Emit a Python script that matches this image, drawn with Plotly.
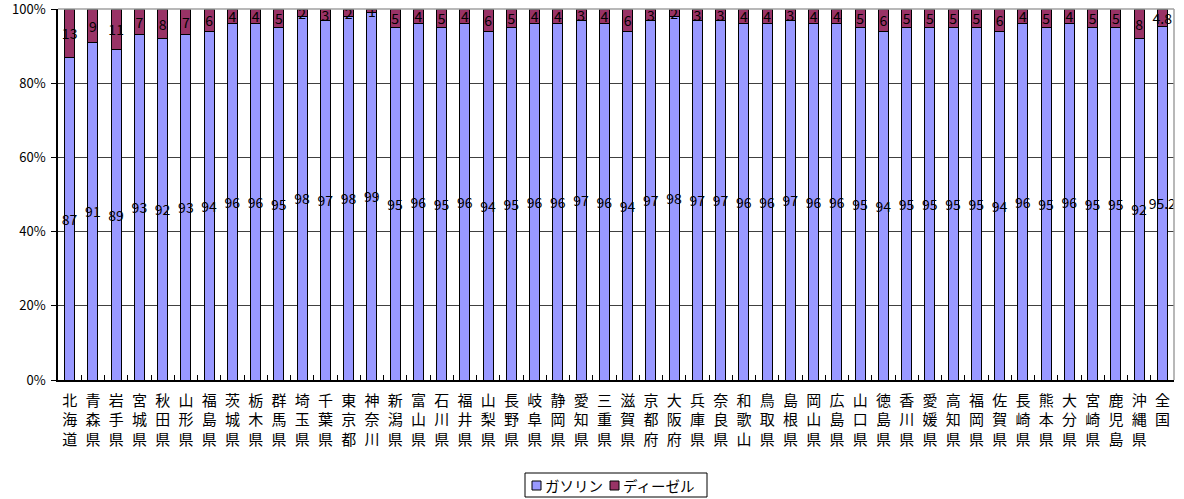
import plotly.graph_objects as go

# Prefecture names (stacked vertically under each bar)
prefectures = [
    "北海道", "青森県", "岩手県", "宮城県", "秋田県", "山形県", "福島県", "茨城県",
    "栃木県", "群馬県", "埼玉県", "千葉県", "東京都", "神奈川", "新潟県", "富山県",
    "石川県", "福井県", "山梨県", "長野県", "岐阜県", "静岡県", "愛知県", "三重県",
    "滋賀県", "京都府", "大阪府", "兵庫県", "奈良県", "和歌山", "鳥取県", "島根県",
    "岡山県", "広島県", "山口県", "徳島県", "香川県", "愛媛県", "高知県", "福岡県",
    "佐賀県", "長崎県", "熊本県", "大分県", "宮崎県", "鹿児島", "沖縄県", "全国",
]

# Share of gasoline vehicles (%)
gasoline = [
    87, 91, 89, 93, 92, 93, 94, 96, 96, 95, 98, 97, 98, 99, 95, 96,
    95, 96, 94, 95, 96, 96, 97, 96, 94, 97, 98, 97, 97, 96, 96, 97,
    96, 96, 95, 94, 95, 95, 95, 95, 94, 96, 95, 96, 95, 95, 92, 95.2,
]

# Share of diesel vehicles (%)
diesel = [
    13, 9, 11, 7, 8, 7, 6, 4, 4, 5, 2, 3, 2, 1, 5, 4,
    5, 4, 6, 5, 4, 4, 3, 4, 6, 3, 2, 3, 3, 4, 4, 3,
    4, 4, 5, 6, 5, 5, 5, 5, 6, 4, 5, 4, 5, 5, 8, 4.8,
]

series_names = ["ガソリン", "ディーゼル"]
series_colors = ["#9999FF", "#993366"]

y_ticks = [0, 20, 40, 60, 80, 100]
y_tick_text = ["0%", "20%", "40%", "60%", "80%", "100%"]

FONT = "Noto Sans CJK JP"
W, H = 1184, 499
ML, MR, MT, MB = 58, 10, 9, 119
PW, PH = W - ML - MR, H - MT - MB

# Each name written one character per line
x_labels = ["<br>".join(list(name)) for name in prefectures]


def px_x(px):
    """Horizontal pixel position -> paper coordinate."""
    return (px - ML) / PW


def px_y(py):
    """Vertical pixel position (from top) -> paper coordinate."""
    return (H - MB - py) / PH


fig = go.Figure()
for name, values, color in zip(series_names, [gasoline, diesel], series_colors):
    fig.add_trace(go.Bar(
        name=name,
        x=x_labels,
        y=values,
        marker=dict(color=color, line=dict(color="#000000", width=1)),
        text=[f"{v:g}" for v in values],
        texttemplate="%{text}",
        textposition="inside",
        insidetextanchor="middle",
        textangle=0,
        constraintext="none",
        textfont=dict(family=FONT, size=14, color="#000000"),
        hoverinfo="x+y+name",
        showlegend=False,
    ))

# Legend box drawn by hand: frame, two swatches and their labels
legend_shapes = [
    dict(type="rect", xref="paper", yref="paper",
         x0=px_x(525), x1=px_x(707), y0=px_y(497), y1=px_y(473),
         line=dict(color="#000000", width=1), fillcolor="#FFFFFF", layer="above"),
]
legend_annotations = []
for swatch_left, color, name in zip([532, 610], series_colors, series_names):
    legend_shapes.append(dict(
        type="rect", xref="paper", yref="paper",
        x0=px_x(swatch_left), x1=px_x(swatch_left + 9),
        y0=px_y(490), y1=px_y(481),
        line=dict(color="#000000", width=1), fillcolor=color, layer="above",
    ))
    legend_annotations.append(dict(
        xref="paper", yref="paper",
        x=px_x(swatch_left + 11), y=px_y(485.5),
        xanchor="left", yanchor="middle",
        text=name, showarrow=False,
        font=dict(family=FONT, size=14.5, color="#000000"),
    ))

# Top and right edges of the plot frame (grey)
frame_shapes = [
    dict(type="line", xref="paper", yref="paper", x0=0, x1=1, y0=1, y1=1,
         line=dict(color="#A0A0A0", width=1.5), layer="above"),
    dict(type="line", xref="paper", yref="paper", x0=1, x1=1, y0=0, y1=1,
         line=dict(color="#A0A0A0", width=1.5), layer="above"),
]

fig.update_layout(
    barmode="stack",
    bargap=0.57,
    width=W,
    height=H,
    margin=dict(l=ML, r=MR, t=MT, b=MB, autoexpand=False),
    paper_bgcolor="#FFFFFF",
    plot_bgcolor="#FFFFFF",
    font=dict(family=FONT, size=13, color="#000000"),
    uniformtext=dict(minsize=14, mode="show"),
    showlegend=False,
    shapes=frame_shapes + legend_shapes,
    annotations=legend_annotations,
)

fig.update_xaxes(
    type="category",
    showgrid=False,
    showline=True,
    linecolor="#000000",
    linewidth=1.5,
    ticks="inside",
    tickson="boundaries",
    ticklen=5,
    tickcolor="#000000",
    tickangle=0,
    ticklabelstandoff=6,
    tickfont=dict(family=FONT, size=15, color="#000000"),
    automargin=False,
)

fig.update_yaxes(
    range=[0, 100],
    tickvals=y_ticks,
    ticktext=y_tick_text,
    ticklabeloverflow="allow",
    ticklabelstandoff=3,
    showgrid=True,
    gridcolor="#404040",
    gridwidth=1,
    showline=True,
    linecolor="#000000",
    linewidth=1.5,
    ticks="outside",
    ticklen=5,
    tickcolor="#000000",
    tickfont=dict(family=FONT, size=13, color="#000000"),
    zeroline=False,
    automargin=False,
)

fig.write_html("out.html")
